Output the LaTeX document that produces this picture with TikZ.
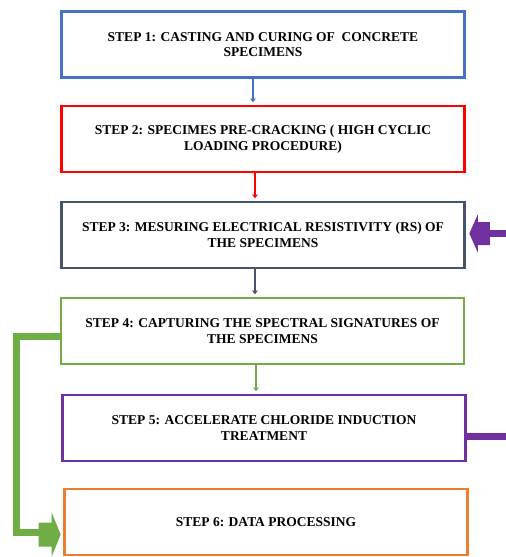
\documentclass[tikz,border=0pt]{standalone}
\usepackage{fontspec}
\setmainfont{Liberation Serif}
\usetikzlibrary{arrows.meta,calc}
\definecolor{cblue}{HTML}{4472C4}
\definecolor{cred}{HTML}{FF0000}
\definecolor{cslate}{HTML}{44546A}
\definecolor{cgreen}{HTML}{70AD47}
\definecolor{cpurple}{HTML}{7030A0}
\definecolor{corange}{HTML}{ED7D31}
\begin{document}
\begin{tikzpicture}[x=1pt,y=-1pt,
  stepbox/.style={draw, line width=2.6pt, minimum width=403pt, minimum height=66pt,
    inner sep=0pt, align=center, fill=white,
    font=\bfseries\fontsize{13.5}{15.7}\selectfont},
  flow/.style={line width=2.2pt, -{Triangle[length=3.5pt,width=5.5pt]}, shorten >=2.5pt},
  loopline/.style={line width=6.5pt, line join=miter}]
\useasboundingbox (0,0) rectangle (506,557);
\clip (0,0) rectangle (506,557);
\node[stepbox, draw=cblue] (b1) at (263,44.5) {STEP 1: CASTING AND CURING OF\ \ CONCRETE\\SPECIMENS};
\node[stepbox, draw=cred] (b2) at (263,139) {STEP 2: SPECIMES PRE-CRACKING ( HIGH CYCLIC\\LOADING PROCEDURE)};
\node[stepbox, draw=cslate] (b3) at (263,235) {STEP 3: MESURING ELECTRICAL RESISTIVITY (RS) OF\\THE SPECIMENS};
\node[stepbox, draw=cgreen] (b4) at (262.5,331) {STEP 4: CAPTURING THE SPECTRAL SIGNATURES OF\\THE SPECIMENS};
\node[stepbox, draw=cpurple] (b5) at (264,428) {STEP 5: ACCELERATE CHLORIDE INDUCTION\\TREATMENT};
\node[stepbox, draw=corange] (b6) at (266,522) {STEP 6: DATA PROCESSING};
% small flow arrows
\coordinate (a1) at ($(b1.south)+(-10,0)$);
\coordinate (a2) at ($(b2.south)+(-8,0)$);
\coordinate (a3) at ($(b3.south)+(-8,0)$);
\coordinate (a4) at ($(b4.south)+(-6.5,0)$);
\draw[flow, cblue] (a1) -- (a1 |- b2.north);
\draw[flow, cred] (a2) -- (a2 |- b3.north);
\draw[flow, cslate] (a3) -- (a3 |- b4.north);
\draw[flow, cgreen] (a4) -- (a4 |- b5.north);
% purple loop from step 5 back to step 3
\coordinate (pt) at ($(b3.east)+(3.5,-1.5)$);
\draw[loopline, cpurple] ($(b5.east)+(0,8.5)$) -- ++(70,0) |- ($(pt)+(15,0)$);
\fill[cpurple] (pt) -- ++(8.5,-19) -- ++(0,7.5) -- ++(12,0) -- ++(0,23) -- ++(-12,0) -- ++(0,7.5) -- cycle;
% green link from step 4 to step 6
\coordinate (gt) at ($(b6.west)+(-2.5,12.5)$);
\draw[loopline, cgreen] ($(b4.west)+(0,5.5)$) -- ++(-43,0) |- ($(gt)+(-15,-2)$);
\fill[cgreen] (gt) -- ++(-9,-22) -- ++(0,10) -- ++(-13,0) -- ++(0,24) -- ++(13,0) -- ++(0,10) -- cycle;
\end{tikzpicture}
\end{document}
